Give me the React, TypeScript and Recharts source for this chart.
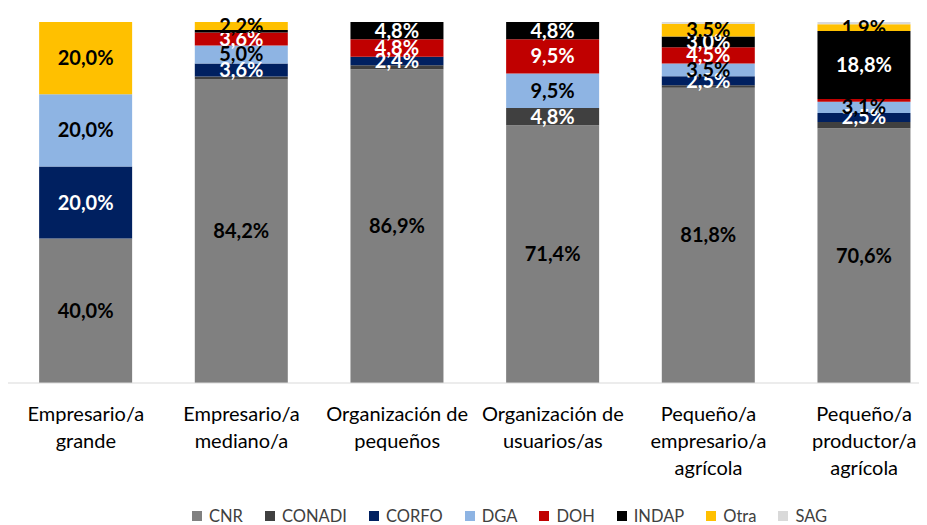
import { Bar, BarChart, LabelList, Legend, XAxis, YAxis } from "recharts";

const categories = [
    ["Empresario/a", "grande"],
    ["Empresario/a", "mediano/a"],
    ["Organización de", "pequeños"],
    ["Organización de", "usuarios/as"],
    ["Pequeño/a", "empresario/a", "agrícola"],
    ["Pequeño/a", "productor/a", "agrícola"],
];

const cnr = [40, 84.2, 86.9, 71.4, 81.8, 70.6];
const conadi = [0, 0.7, 1.1, 4.8, 0.7, 1.7];
const corfo = [20, 3.6, 2.4, 0, 2.5, 2.5];
const dga = [20, 5.0, 0, 9.5, 3.5, 3.1];
const doh = [0, 3.6, 4.8, 9.5, 4.5, 0.8];
const indap = [0, 0.7, 4.8, 4.8, 3.0, 18.8];
const otra = [20, 2.2, 0, 0, 3.5, 1.9];
const sag = [0, 0, 0, 0, 0.5, 0.6];

const series = [
    { key: "CNR", values: cnr, color: "#808080", text: "#000000" },
    { key: "CONADI", values: conadi, color: "#404040", text: "#ffffff" },
    { key: "CORFO", values: corfo, color: "#002060", text: "#ffffff" },
    { key: "DGA", values: dga, color: "#8eb4e3", text: "#000000" },
    { key: "DOH", values: doh, color: "#c00000", text: "#ffffff" },
    { key: "INDAP", values: indap, color: "#000000", text: "#ffffff" },
    { key: "Otra", values: otra, color: "#ffc000", text: "#000000" },
    { key: "SAG", values: sag, color: "#d9d9d9", text: "#000000" },
];

const data = categories.map((lines, i) => {
    const row: Record<string, any> = { name: lines.join(" "), idx: i };
    series.forEach(s => { row[s.key] = s.values[i]; });
    return row;
});

const fmt = (v: number) => v.toFixed(1).replace(".", ",") + "%";

function CategoryTick({ x, y, payload }: any) {
    const lines = categories[payload.index] || [];
    return (
        <text x={x} y={y} textAnchor="middle" fill="#000" fontFamily="Lato" fontSize={20}>
            {lines.map((l, i) => (
                <tspan key={i} x={x} dy={i === 0 ? 38 : 27}>{l}</tspan>
            ))}
        </text>
    );
}

function makeLabel(color: string) {
    return (props: any) => {
        const { x, y, width, height, value } = props;
        if (!value || value < 1.9) return null;
        return (
            <text x={x + width / 2} y={y + height / 2} dy={7} textAnchor="middle"
                fill={color} fontFamily="Lato" fontWeight="bold" fontSize={20}>
                {fmt(value)}
            </text>
        );
    };
}

function LegendBox() {
    return (
        <div style={{ display: "flex", gap: 22, paddingLeft: 184, fontFamily: "Lato", fontSize: 16.5, color: "#404040", lineHeight: "18px", marginTop: -1 }}>
            {series.map(s => (
                <div key={s.key} style={{ display: "flex", alignItems: "center" }}>
                    <span style={{ width: 10, height: 10, background: s.color, marginRight: 7, display: "inline-block" }} />
                    {s.key}
                </div>
            ))}
        </div>
    );
}

export default function App() {
    return (
        <div style={{ width: 919, height: 517, overflow: "hidden" }}>
            <BarChart width={934} height={517} data={data} margin={{ top: 14, right: 0, left: 0, bottom: 0 }} barCategoryGap="20%">
                <XAxis dataKey="name" tick={<CategoryTick />} tickLine={false} tickSize={0} tickMargin={0}
                    axisLine={{ stroke: "#d9d9d9" }} height={125} interval={0} />
                <YAxis hide domain={[0, 100]} />
                <Legend verticalAlign="bottom" align="left" content={<LegendBox />} wrapperStyle={{ left: 0, width: 934 }} />
                {series.map(s => (
                    <Bar key={s.key} dataKey={s.key} stackId="a" fill={s.color} isAnimationActive={false}>
                        <LabelList dataKey={s.key} content={makeLabel(s.text)} />
                    </Bar>
                ))}
            </BarChart>
        </div>
    );
}
